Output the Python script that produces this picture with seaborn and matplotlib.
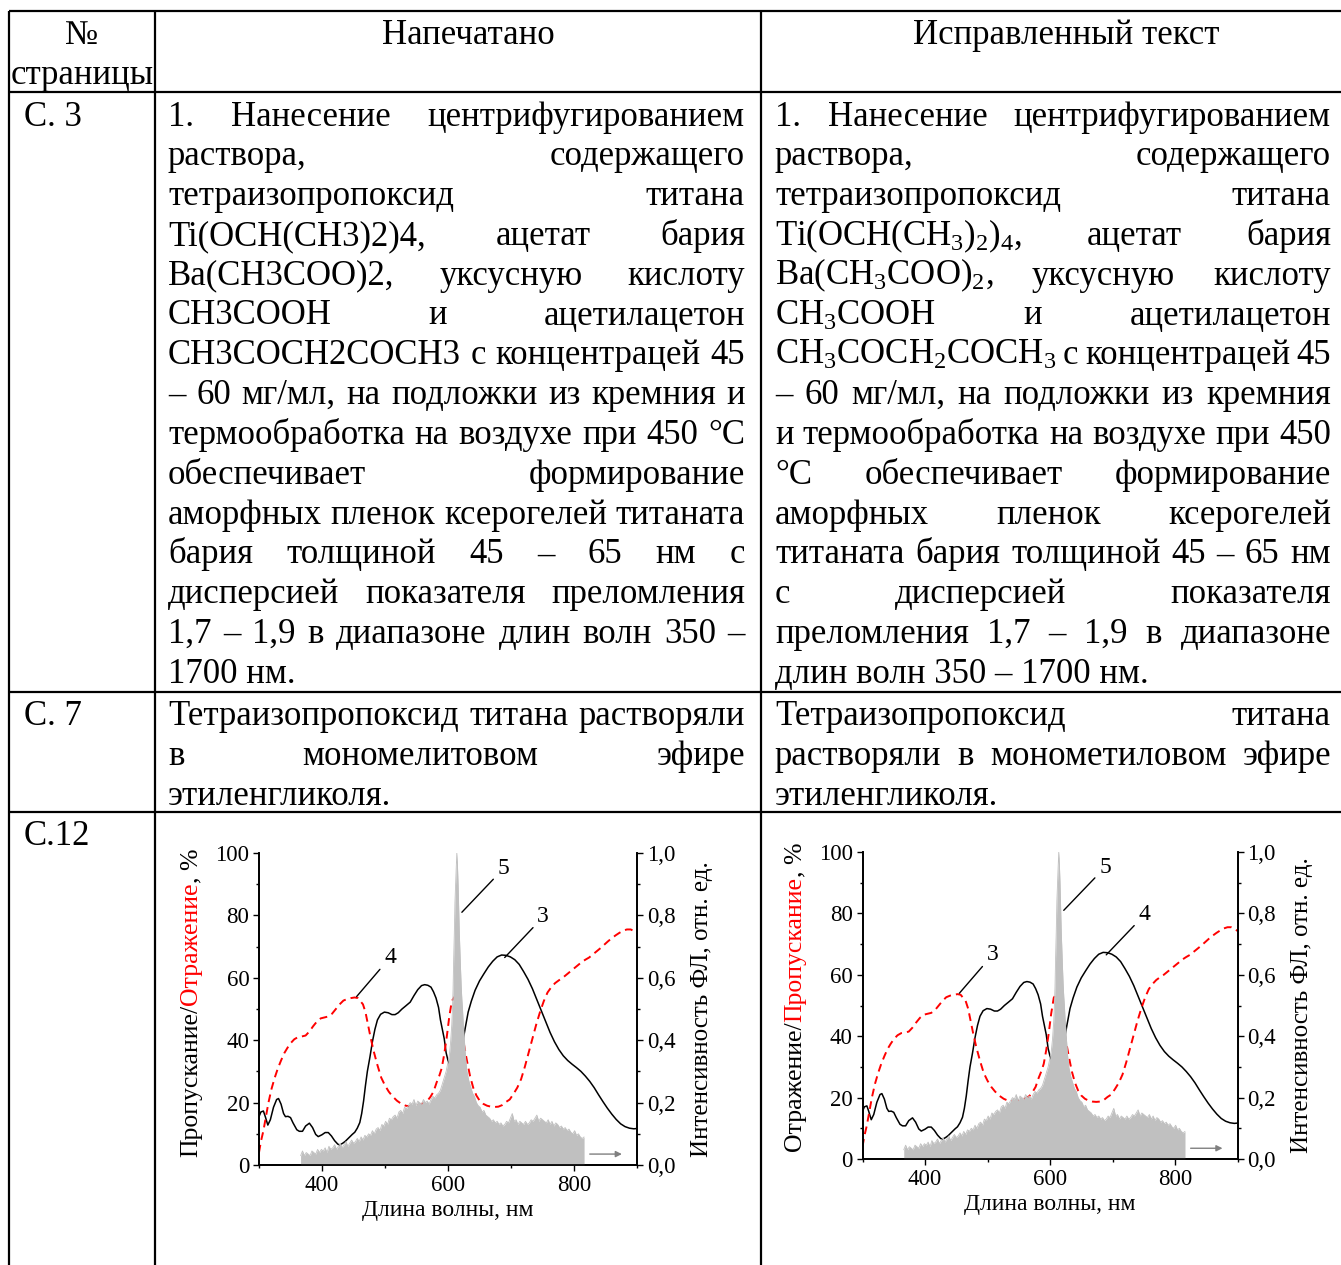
import numpy as np
import matplotlib
matplotlib.use("Agg")
import matplotlib.pyplot as plt
import seaborn as sns
from matplotlib.ticker import MultipleLocator, FuncFormatter

# ---------------- chart data ----------------
# curve: transmission (black, solid), wavelength nm / %
trans_wl = [300, 303, 307, 310, 314, 318, 323, 328, 331, 335, 339, 342, 346, 350, 354, 360, 364,
            369, 374, 380, 385, 390, 394, 400, 405, 410, 415, 420, 425, 428, 433, 437, 443, 448,
            452, 456, 460, 463, 466, 469, 472, 476, 480, 484, 488, 493, 499, 505, 511, 516, 521,
            527, 533, 540, 546, 552, 558, 563, 568, 573, 577, 581, 585, 588, 591, 594, 597, 600,
            605, 610, 616, 621, 624, 627, 632, 637, 643, 650, 657, 664, 671, 678, 685, 692, 699,
            706, 713, 720, 727, 734, 741, 748, 755, 762, 769, 776, 783, 790, 797, 804, 811, 818,
            825, 832, 839, 846, 853, 860, 867, 874, 881, 888, 895, 900]
trans_val = [15.5, 17, 17.3, 15.5, 12.8, 14.5, 18.5, 21, 21.3, 19.5, 16.5, 15.5, 15.6, 15.2, 13.5,
             11.3, 10.8, 10.8, 12.5, 13.4, 12, 9.8, 9.1, 9.7, 10.4, 10.4, 9.3, 7.8, 6.7, 6.4, 7,
             7.6, 8.8, 9.8, 10.5, 11.8, 13.6, 16.5, 20.5, 25.5, 30, 34.5, 39.5, 43.5, 46.5, 48.3,
             49, 48.8, 48.2, 48.2, 48.8, 50, 51, 52.2, 54.3, 56.2, 57.5, 57.8, 57.6, 57, 55.5,
             53.5, 50.5, 46.5, 43.5, 40.5, 36, 33.5, 31, 30.5, 32.5, 37, 40, 43.5, 49, 52.5, 56,
             59, 61.3, 63.5, 65.3, 66.7, 67.3, 67.2, 66.7, 65.8, 64.3, 62, 59.5, 56.5, 53, 49.5,
             46, 42.5, 39.5, 37, 35, 33.5, 32.3, 31.2, 30, 28.5, 26.8, 24.8, 22.5, 20.3, 18.2,
             16.3, 14.6, 13.2, 12.3, 11.8, 11.6, 11.7]

# curve: reflection (red, dashed), wavelength nm / %
refl_wl = [300, 303, 307, 311, 315, 320, 325, 330, 335, 340, 345, 350, 356, 362, 368, 374, 380,
           386, 392, 398, 404, 410, 416, 422, 428, 434, 440, 446, 452, 457, 461, 465, 469, 473,
           477, 482, 488, 494, 500, 506, 512, 519, 526, 533, 540, 547, 554, 561, 567, 572, 577,
           582, 586, 590, 594, 598, 602, 606, 610, 615, 620, 625, 630, 635, 640, 645, 650, 656,
           662, 668, 674, 680, 686, 692, 698, 704, 710, 716, 722, 728, 734, 740, 746, 752, 758,
           764, 770, 776, 782, 788, 794, 800, 806, 812, 818, 824, 830, 836, 842, 848, 854, 860,
           866, 872, 878, 884, 890, 895, 900]
refl_val = [4, 7.5, 11, 15.5, 20, 24.5, 28, 31, 33.5, 35.8, 37.5, 39, 40.3, 41, 41.2, 41.5, 42.8,
            44.5, 46, 47, 47.3, 47.6, 48.5, 50, 51.5, 52.7, 53.2, 53.5, 53.7, 53.5, 52.5, 51.5,
            49, 45, 41, 36.5, 32, 28, 25.5, 23.5, 22, 20.6, 19.6, 19, 18.8, 19, 19.3, 19.8, 20.5,
            21.8, 23.5, 26.5, 28.5, 31, 35.5, 41, 47.5, 52.5, 53.8, 50, 45, 39, 33.5, 28.5, 24.8,
            22.3, 20.7, 19.6, 19, 18.7, 18.6, 18.7, 19.2, 20.2, 21, 22.8, 24.8, 27.5, 31.5, 36,
            40.5, 45, 49, 52.5, 55.3, 57, 58.3, 59.2, 60, 61, 62, 63, 64, 65, 65.8, 66.5, 67.5,
            68.5, 69.5, 70.6, 71.7, 72.7, 73.6, 74.4, 75.1, 75.5, 75.5, 75, 74.3]

# curve: photoluminescence (grey area, right axis), sampled every 3 nm, 1 nm around the peak
pl_wl = np.concatenate([np.arange(366, 601, 3), np.arange(601, 631), np.arange(633, 817, 3)])
pl_int = [0.03, 0.045, 0.03, 0.04, 0.035, 0.03, 0.045, 0.04, 0.035, 0.05,
          0.04, 0.05, 0.045, 0.055, 0.04, 0.06, 0.05, 0.055, 0.065, 0.05,
          0.06, 0.07, 0.055, 0.065, 0.075, 0.06, 0.07, 0.08, 0.07, 0.075,
          0.085, 0.075, 0.09, 0.08, 0.095, 0.09, 0.1, 0.095, 0.11, 0.1,
          0.115, 0.12, 0.11, 0.13, 0.125, 0.14, 0.13, 0.15, 0.145, 0.155,
          0.16, 0.15, 0.17, 0.175, 0.165, 0.185, 0.18, 0.19, 0.2, 0.195,
          0.21, 0.19, 0.205, 0.2, 0.195, 0.21, 0.2, 0.205, 0.195, 0.21,
          0.22, 0.215, 0.225, 0.23, 0.24, 0.26, 0.28, 0.3, 0.33,
          0.34, 0.35, 0.37, 0.39, 0.42, 0.45, 0.5, 0.56, 0.66, 0.74,
          0.84, 0.9, 0.95, 1.0, 0.96, 0.9, 0.82, 0.74, 0.68, 0.62,
          0.57, 0.53, 0.5, 0.46, 0.43, 0.4, 0.37, 0.34, 0.32, 0.3,
          0.27, 0.25, 0.23, 0.22, 0.2, 0.19, 0.185, 0.17, 0.175, 0.16,
          0.155, 0.15, 0.14, 0.145, 0.135, 0.14, 0.13, 0.135, 0.125, 0.13,
          0.14, 0.135, 0.15, 0.165, 0.14, 0.145, 0.13, 0.14, 0.135, 0.13,
          0.14, 0.13, 0.135, 0.145, 0.14, 0.15, 0.16, 0.14, 0.15, 0.145,
          0.14, 0.135, 0.145, 0.13, 0.14, 0.125, 0.135, 0.13, 0.12, 0.125,
          0.115, 0.12, 0.11, 0.115, 0.105, 0.1, 0.11, 0.095, 0.1, 0.09,
          0.085, 0.09]

# ---------------- table text ----------------
header = ["№", "страницы", "Напечатано", "Исправленный текст"]
pages = ["С. 3", "С. 7", "С.12"]

printed_1 = ["1. Нанесение центрифугированием",
             "раствора, содержащего",
             "тетраизопропоксид титана",
             "Ti(OCH(CH3)2)4, ацетат бария",
             "Ba(CH3COO)2, уксусную кислоту",
             "CH3COOH и ацетилацетон",
             "CH3COCH2COCH3 с концентрацей 45",
             "– 60 мг/мл, на подложки из кремния и",
             "термообработка на воздухе при 450 °С",
             "обеспечивает формирование",
             "аморфных пленок ксерогелей титаната",
             "бария толщиной 45 – 65 нм с",
             "дисперсией показателя преломления",
             "1,7 – 1,9 в диапазоне длин волн 350 –",
             "1700 нм."]
fixed_1 = ["1. Нанесение центрифугированием",
           "раствора, содержащего",
           "тетраизопропоксид титана",
           "Ti(OCH(CH$_3$)$_2$)$_4$, ацетат бария",
           "Ba(CH$_3$COO)$_2$, уксусную кислоту",
           "CH$_3$COOH и ацетилацетон",
           "CH$_3$COCH$_2$COCH$_3$ с концентрацей 45",
           "– 60 мг/мл, на подложки из кремния",
           "и термообработка на воздухе при 450",
           "°С обеспечивает формирование",
           "аморфных пленок ксерогелей",
           "титаната бария толщиной 45 – 65 нм",
           "с дисперсией показателя",
           "преломления 1,7 – 1,9 в диапазоне",
           "длин волн 350 – 1700 нм."]
printed_2 = ["Тетраизопропоксид титана растворяли",
             "в мономелитовом эфире",
             "этиленгликоля."]
fixed_2 = ["Тетраизопропоксид титана",
           "растворяли в монометиловом эфире",
           "этиленгликоля."]

# ---------------- style ----------------
sns.set_theme(style="ticks", rc={"axes.edgecolor": "black", "xtick.color": "black",
                                 "ytick.color": "black", "text.color": "black",
                                 "axes.labelcolor": "black", "axes.facecolor": "none"})
plt.rcParams["font.family"] = ["Liberation Serif", "DejaVu Serif"]
plt.rcParams["mathtext.fontset"] = "custom"
plt.rcParams["mathtext.rm"] = "Liberation Serif"
plt.rcParams["mathtext.it"] = "Liberation Serif:italic"
plt.rcParams["mathtext.bf"] = "Liberation Serif:bold"
plt.rcParams["mathtext.default"] = "regular"

FS = 25
LINE = 39.8

fig = plt.figure(figsize=(13.41, 12.65), dpi=100)
page = fig.add_axes([0, 0, 1, 1])
page.set_xlim(0, 1341)
page.set_ylim(1265, 0)
page.axis("off")
renderer = fig.canvas.get_renderer()

# table grid
for y in [11, 92, 692, 812]:
    page.plot([9, 1341], [y, y], color="black", lw=1.6, solid_capstyle="butt")
for x in [9, 155, 761]:
    page.plot([x, x], [11, 1265], color="black", lw=1.6, solid_capstyle="butt")


def put_paragraph(lines, x0, x1, y0):
    for i, line in enumerate(lines):
        y = y0 + i * LINE
        if i == len(lines) - 1:
            page.text(x0, y, line, fontsize=FS, va="baseline", ha="left")
            continue
        objs = [page.text(0, y, w, fontsize=FS, va="baseline", ha="left") for w in line.split(" ")]
        widths = [o.get_window_extent(renderer).width for o in objs]
        gap = (x1 - x0 - sum(widths)) / (len(objs) - 1)
        x = x0
        for o, w in zip(objs, widths):
            o.set_x(x)
            x += w + gap


page.text(82, 44, header[0], fontsize=FS, ha="center", va="baseline")
page.text(82, 84, header[1], fontsize=FS, ha="center", va="baseline")
page.text(468, 44, header[2], fontsize=FS, ha="center", va="baseline")
page.text(1066, 44, header[3], fontsize=FS, ha="center", va="baseline")

page.text(24, 125.5, pages[0], fontsize=FS, va="baseline")
page.text(24, 725, pages[1], fontsize=FS, va="baseline")
page.text(24, 845, pages[2], fontsize=FS, va="baseline")

put_paragraph(printed_1, 168, 745, 125.5)
put_paragraph(fixed_1, 775, 1331, 125.5)
put_paragraph(printed_2, 168, 745, 725)
put_paragraph(fixed_2, 775, 1331, 725)


# ---------------- charts ----------------
def comma(v, pos):
    return f"{v:.1f}".replace(".", ",")


def draw_chart(rect, ylabel_parts, red_label, black_label):
    ax = fig.add_axes(rect)
    sns.lineplot(x=trans_wl, y=trans_val, ax=ax, color="black", lw=1.1,
                 estimator=None, sort=False)
    sns.lineplot(x=refl_wl, y=refl_val, ax=ax, color="red", lw=1.4,
                 estimator=None, sort=False)
    ax.lines[-1].set_dashes([4, 2.6])
    ax.set_xlim(300, 900)
    ax.set_ylim(0, 100)
    ax.spines["top"].set_visible(False)
    ax.xaxis.set_major_locator(MultipleLocator(200))
    ax.xaxis.set_minor_locator(MultipleLocator(100))
    ax.yaxis.set_major_locator(MultipleLocator(20))
    ax.yaxis.set_minor_locator(MultipleLocator(10))
    ax.tick_params(which="major", direction="out", length=4, width=1, labelsize=16.5, pad=3)
    ax.tick_params(which="minor", direction="out", length=2.3, width=1)
    ax.set_xlabel("Длина волны, нм", fontsize=17, labelpad=3)
    ax.set_ylabel("")

    ax2 = ax.twinx()
    ax2.fill_between(pl_wl, 0, pl_int, color="#c0c0c0", lw=0)
    sns.lineplot(x=pl_wl, y=pl_int, ax=ax2, color="#c0c0c0", lw=0.6,
                 estimator=None, sort=False)
    ax2.set_ylim(0, 1)
    ax2.spines["top"].set_visible(False)
    ax2.yaxis.set_major_locator(MultipleLocator(0.2))
    ax2.yaxis.set_minor_locator(MultipleLocator(0.1))
    ax2.yaxis.set_major_formatter(FuncFormatter(comma))
    ax2.tick_params(which="major", direction="out", length=4, width=1, labelsize=16.5, pad=3)
    ax2.tick_params(which="minor", direction="out", length=2.3, width=1)
    ax2.set_ylabel("Интенсивность ФЛ, отн. ед.", fontsize=18, labelpad=11)
    ax2.annotate("", xy=(876, 0.035), xytext=(825, 0.035),
                 arrowprops=dict(arrowstyle="-|>", color="#808080", lw=1, mutation_scale=9,
                                 shrinkA=0, shrinkB=0))

    # curve numbers with leader lines
    line_kw = dict(arrowstyle="-", color="black", lw=1, shrinkA=1, shrinkB=0)
    ax.annotate("5", xy=(622, 81), xytext=(688, 95), fontsize=17, ha="center", va="center",
                arrowprops=line_kw)
    ax.annotate(black_label, xy=(690, 66.5), xytext=(751, 79.5), fontsize=17, ha="center",
                va="center", arrowprops=line_kw)
    ax.annotate(red_label, xy=(455, 54), xytext=(508, 66.5), fontsize=17, ha="center",
                va="center", arrowprops=line_kw)

    # two-colour left axis title, stacked bottom to top
    prev = ax.text(-0.18, 0.025, ylabel_parts[0][0], color=ylabel_parts[0][1], rotation=90,
                   ha="center", va="bottom", fontsize=18.5, transform=ax.transAxes)
    for txt, col in ylabel_parts[1:]:
        prev = ax.annotate(txt, xy=(0.5, 1), xycoords=prev, ha="center", va="bottom",
                           rotation=90, color=col, fontsize=18.5)
    return ax


draw_chart([259 / 1341, 100 / 1265, 378 / 1341, 312 / 1265],
           [("Пропускание/", "black"), ("Отражение", "red"), (", %", "black")], "4", "3")
draw_chart([862.5 / 1341, 106 / 1265, 375 / 1341, 307 / 1265],
           [("Отражение/", "black"), ("Пропускание", "red"), (", %", "black")], "3", "4")

fig.savefig("out.png", dpi=100)
